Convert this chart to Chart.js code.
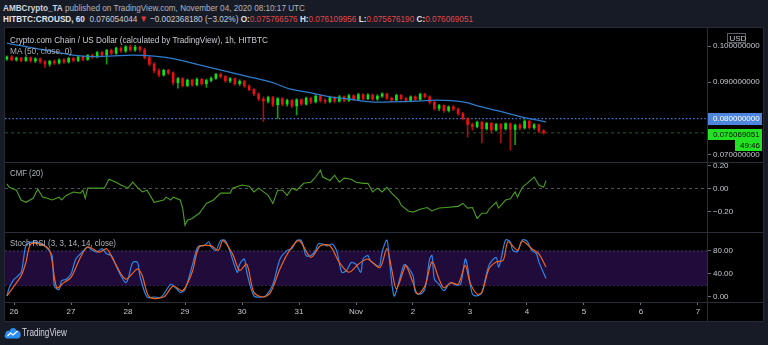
<!DOCTYPE html>
<html><head><meta charset="utf-8">
<script src="https://cdn.jsdelivr.net/npm/chart.js@4.4.0/dist/chart.umd.min.js"></script>
<style>
html,body{margin:0;padding:0;background:#171b26;width:768px;height:345px;overflow:hidden;font-family:"Liberation Sans",Arial,sans-serif;}
.txt{position:absolute;white-space:nowrap;transform-origin:0 50%;line-height:1;z-index:5;}
#panel{position:absolute;left:4px;top:27px;width:758px;height:293px;background:#000;border:1px solid #262a35;}
canvas{position:absolute;left:5px;z-index:2;}
.sep{position:absolute;background:#2a2e39;z-index:4;}
</style></head><body>
<div id="panel"></div>
<canvas id="cPrice" width="758" height="134" style="top:28px;width:758px;height:134px"></canvas>
<canvas id="cCmf" width="758" height="70" style="top:162px;width:758px;height:70px"></canvas>
<canvas id="cStoch" width="758" height="89" style="top:232px;width:758px;height:89px"></canvas>
<div class="sep" style="left:5px;top:162px;width:758px;height:1px"></div>
<div class="sep" style="left:5px;top:232px;width:758px;height:1px"></div>
<div class="sep" style="left:5px;top:302px;width:758px;height:1px"></div>
<div class="sep" style="left:707px;top:28px;width:1px;height:293px"></div>

<div id="t1" class="txt" style="left:3px;top:2.5px;font-size:9.5px"><b style="color:#d1d4dc">AMBCrypto_TA</b> <span style="color:#b2b5be">published on TradingView.com, November 04, 2020 08:10:17 UTC</span></div>
<div id="t2" class="txt" style="left:3px;top:14px;font-size:9.5px;color:#c8cbd3"><b style="color:#e0e3eb">HITBTC:CROUSD, 60</b>&nbsp; 0.076054044 <span style="color:#e53935">▼</span> −0.002368180 (−3.02%) <b style="color:#e0e3eb">O:</b><span style="color:#e04848">0.075766576</span> <b style="color:#e0e3eb">H:</b><span style="color:#e04848">0.076109956</span> <b style="color:#e0e3eb">L:</b><span style="color:#e04848">0.075676190</span> <b style="color:#e0e3eb">C:</b><span style="color:#e04848">0.076069051</span></div>
<div id="t3" class="txt" style="left:10px;top:36px;font-size:9px;color:#c9ccd3">Crypto.com Chain / US Dollar (calculated by TradingView), 1h, HITBTC</div>
<div id="t4" class="txt" style="left:10px;top:46.5px;font-size:9px;color:#a9acb3">MA (50, close, 0)</div>
<div id="t5" class="txt" style="left:10px;top:169px;font-size:9px;color:#b2b5be">CMF (20)</div>
<div id="t6" class="txt" style="left:10px;top:238.5px;font-size:9px;color:#b2b5be">Stoch RSI (3, 3, 14, 14, close)</div>
<svg style="position:absolute;left:4px;top:326px;z-index:5" width="17" height="13" viewBox="0 0 34 26"><path d="M6 25 C1 25 0 19 3 16 C2 11 7 8 11 10 C13 3 22 2 25 9 C30 8 34 12 33 17 C34 22 30 25 27 25 Z" fill="#2a8ef0"/><path d="M7 20 L13 14 L18 18 L27 10" stroke="#fff" stroke-width="2.6" fill="none"/></svg>
<div id="t7" class="txt" style="left:22px;top:328px;font-size:10px;color:#d1d4dc">TradingView</div>

<script>
// ---------- data ----------
const dayTickHours = [0,24,48,72,96,120,144,168,192,216,240,264,288];
const dayLabels = ['26','27','28','29','30','31','Nov','2','3','4','5','6','7'];
const xMin = -3.8, xMax = 291.8; // hours from Oct 26 00:00 UTC
const candleFirstHour = -3, candleStepHours = 2;

const candleOpen = [.0964,.0970,.0962,.0967,.0960,.0968,.0959,.0965,.0957,.0950,.0958,.0953,.0962,.0956,.0966,.0960,.0970,.0963,.0974,.0970,.0982,.0975,.0988,.0980,.0994,.0986,.0998,.0989,.0997,.0990,
  .0968,.0950,.0932,.0920,.0933,.0926,.0899,.0910,.0891,.0906,.0893,.0908,.0896,.0905,.0911,.0922,.0916,.0904,.0910,.0896,
  .0903,.0890,.0880,.0868,.0854,.0848,.0858,.0838,.0855,.0840,.0850,.0835,.0852,.0840,.0856,.0846,.0862,.0850,.0847,.0858,
  .0848,.0860,.0850,.0863,.0853,.0866,.0855,.0865,.0854,.0862,.0868,.0856,.0851,.0864,.0855,.0850,.0860,.0853,.0867,.0860,
  .0845,.0828,.0836,.0822,.0832,.0826,.0814,.0800,.0784,.0778,.0790,.0772,.0787,.0769,.0784,.0772,.0786,.0770,.0782,.0774,
  .0793,.0775,.0783,.0766];
const candleClose = [.0970,.0962,.0967,.0960,.0968,.0959,.0965,.0957,.0950,.0958,.0953,.0962,.0956,.0966,.0960,.0970,.0963,.0974,.0970,.0982,.0975,.0988,.0980,.0994,.0986,.0998,.0989,.0997,.0990,.0968,
  .0950,.0932,.0920,.0933,.0926,.0899,.0910,.0891,.0906,.0893,.0908,.0896,.0905,.0911,.0922,.0916,.0904,.0910,.0896,.0903,
  .0890,.0880,.0868,.0854,.0848,.0858,.0838,.0855,.0840,.0850,.0835,.0852,.0840,.0856,.0846,.0862,.0850,.0847,.0858,.0848,
  .0860,.0850,.0863,.0853,.0866,.0855,.0865,.0854,.0862,.0868,.0856,.0851,.0864,.0855,.0850,.0860,.0853,.0867,.0860,.0845,
  .0828,.0836,.0822,.0832,.0826,.0814,.0800,.0784,.0778,.0790,.0772,.0787,.0769,.0784,.0772,.0786,.0770,.0782,.0774,.0793,
  .0775,.0783,.0766,.076069];
const candleHigh = [.0973,.0974,.0970,.0969,.0971,.0970,.0968,.0967,.0960,.0961,.0962,.0965,.0966,.0969,.0969,.0973,.0973,.0977,.0978,.0985,.0986,.0991,.0992,.0997,.0998,.1001,.1003,.1002,.0999,.0994,
  .0972,.0954,.0938,.0936,.0936,.0929,.0914,.0913,.0909,.0909,.0912,.0911,.0909,.0915,.0925,.0926,.0919,.0913,.0912,.0907,
  .0905,.0893,.0883,.0871,.0860,.0862,.0861,.0858,.0858,.0854,.0853,.0855,.0855,.0859,.0859,.0866,.0866,.0855,.0862,.0861,
  .0864,.0863,.0867,.0866,.0870,.0869,.0869,.0868,.0866,.0871,.0870,.0860,.0867,.0867,.0859,.0863,.0863,.0870,.0870,.0863,
  .0848,.0839,.0838,.0835,.0836,.0829,.0817,.0803,.0788,.0793,.0793,.0790,.0790,.0787,.0787,.0789,.0788,.0785,.0786,.0797,
  .0795,.0786,.0785,.0770];
const candleLow = [.0960,.0959,.0958,.0956,.0957,.0955,.0954,.0952,.0940,.0944,.0949,.0950,.0952,.0953,.0956,.0957,.0959,.0960,.0966,.0967,.0970,.0950,.0976,.0977,.0982,.0982,.0985,.0985,.0984,.0964,
  .0945,.0926,.0915,.0917,.0921,.0893,.0884,.0887,.0888,.0889,.0890,.0892,.0886,.0901,.0908,.0911,.0900,.0899,.0892,.0891,
  .0886,.0876,.0863,.0849,.0792,.0843,.0833,.0800,.0835,.0834,.0830,.0810,.0836,.0837,.0841,.0843,.0845,.0842,.0843,.0844,
  .0845,.0846,.0847,.0849,.0850,.0851,.0852,.0850,.0850,.0858,.0852,.0846,.0848,.0851,.0845,.0846,.0849,.0850,.0856,.0840,
  .0823,.0822,.0817,.0818,.0822,.0809,.0796,.0749,.0768,.0774,.0733,.0768,.0760,.0765,.0733,.0768,.0713,.0728,.0769,.0771,
  .0771,.0770,.0761,.0757];

const maHours  = [-3,13,29,40,50,59,68,78,92,99,108,116,125,133,141,150,158,170,178,189,197,206,214,224];
const maValues = [.1008,.0989,.0972,.0972,.0975,.0972,.0964,.0948,.0926,.0915,.0901,.0882,.0871,.0860,.0854,.0846,.0846,.0848,.0851,.0846,.0832,.0818,.0804,.0791];

const alertLevel = 0.08;
const lastPrice = 0.076069051;
const countdownText = '49:46';
const priceTicks = [0.07, 0.09, 0.10];

const cmfHours = [-3,-2,1,3,5,8,10,12,14,16,19,20,22,25,28,29,30,31,36,38,40,43,45,48,50,52,54,56,59,63,64,66,67,70,71,72,73,75,78,81,84,87,91,92,96,99,101,103,107,109,111,113,115,117,119,122,125,127,129,130,133,135,137,139,142,144,147,149,151,153,155,157,159,162,163,166,168,171,174,176,179,182,187,189,191,193,195,197,199,200,203,204,207,209,211,212,214,216,219,221,223,224];
const cmfValues = [0.04,0.01,-0.015,-0.10,-0.12,-0.085,-0.006,-0.075,-0.085,-0.10,-0.075,-0.10,-0.06,-0.03,-0.04,-0.015,-0.085,0.003,0.003,0.003,0.08,0.055,0.03,0.003,0.055,0.01,-0.03,-0.015,-0.12,-0.10,-0.075,-0.10,-0.075,-0.10,-0.17,-0.32,-0.275,-0.26,-0.215,-0.13,-0.10,-0.04,-0.04,0.003,0.03,0.02,-0.03,0.003,-0.06,-0.13,-0.015,-0.015,-0.06,0.003,-0.015,0.045,0.055,0.10,0.16,0.10,0.07,0.115,0.055,0.09,0.08,0.055,0.045,0.045,-0.03,0.003,-0.03,0.01,-0.04,-0.10,-0.145,-0.195,-0.205,-0.18,-0.165,-0.195,-0.17,-0.165,-0.155,-0.13,-0.17,-0.165,-0.26,-0.215,-0.215,-0.18,-0.12,-0.17,-0.10,-0.09,-0.03,-0.075,0.01,0.045,0.10,0.03,0.01,0.07];
const cmfTicks = [-0.2, 0, 0.2];

const stochKHours = [-3,-2,0,1,3,4,5,7,10,11,12,14,16,17,19,20,22,24,26,28,30,31,33,35,37,39,41,43,45,47,48,50,52,53,56,59,62,66,68,70,72,75,77,78,80,82,83,85,87,89,91,94,95,97,98,101,104,106,109,112,115,117,119,121,123,125,127,128,130,132,134,136,138,140,142,144,146,147,149,150,152,153,154,155,157,158,160,162,164,165,168,169,171,173,174,175,176,177,179,181,183,184,186,188,190,191,193,195,197,200,203,204,205,207,209,210,212,214,216,218,220,221,224];
const stochK = [2,16,31,34,43,66,89,95,95,92,92,84,72,19,13,28,31,40,66,75,84,87,81,78,84,75,72,54,37,25,31,60,60,37,0,0,0,22,16,8,13,54,84,89,89,96,87,81,98,98,78,43,57,66,43,2,0,2,22,66,81,84,98,98,72,72,81,92,92,89,92,78,43,46,60,57,43,66,72,63,57,54,55,78,99,66,2,25,55,56,37,8,5,14,37,66,72,31,22,11,22,25,21,22,66,52,5,2,8,55,69,52,64,99,96,81,79,99,97,81,75,61,32];
const stochDHours = [-3,0,3,5,7,11,15,18,21,24,28,31,36,39,42,47,52,54,57,63,67,71,75,78,83,86,88,92,95,98,101,105,108,112,116,120,125,129,133,137,141,145,149,154,157,159,161,164,165,168,170,173,176,179,181,184,187,190,192,195,197,200,203,206,208,212,214,218,221,224];
const stochD = [2,19,37,60,92,92,81,16,25,34,69,87,78,84,63,31,49,37,0,0,19,11,43,87,89,81,98,75,46,57,8,0,8,49,81,98,69,89,89,60,43,57,66,51,84,49,14,46,55,25,5,19,61,31,16,25,22,55,25,5,8,49,61,64,96,81,97,84,75,52];
const stochBand = [20, 80];
const stochTicks = [0, 40, 80];

// ---------- helpers ----------
Chart.defaults.font.family = '"Liberation Sans", Arial, sans-serif';
Chart.defaults.animation = false;
const AXW = 56;
const tickColor = '#c5c8d0';
const pts = (xs, ys) => xs.map((x, i) => ({x, y: ys[i]}));

function yAxis(min, max, ticks, fmt) {
  return {
    type: 'linear', position: 'right', min, max,
    afterBuildTicks(s) { s.ticks = ticks.map(v => ({value: v})); },
    afterFit(s) { s.width = AXW; s.paddingTop = 0; s.paddingBottom = 0; },
    grid: {drawOnChartArea: false, drawTicks: true, tickLength: 4, color: '#6a6e78'},
    border: {display: false},
    ticks: {color: tickColor, font: {size: 8}, padding: 2, callback: fmt}
  };
}
function xHidden() {
  return {type: 'linear', min: xMin, max: xMax, display: false, offset: false};
}
const commonOpts = {
  responsive: false, maintainAspectRatio: false, animation: false,
  layout: {padding: 0},
  plugins: {legend: {display: false}, tooltip: {enabled: false}}
};

// ---------- price chart ----------
const candleHours = candleOpen.map((_, i) => candleFirstHour + i * candleStepHours);
const isUp = i => candleClose[i] >= candleOpen[i];
const tagPlugin = {
  id: 'tags',
  afterDraw(c) {
    const ctx = c.ctx, ys = c.scales.y, L = c.chartArea.right + 1, W = c.width - L - 1;
    ctx.save();
    ctx.font = '8px "Liberation Sans", Arial';
    ctx.textBaseline = 'middle';
    ctx.strokeStyle = '#5a5e68'; ctx.lineWidth = 1;
    ctx.strokeRect(722.5, 5.5, 18, 9);
    ctx.fillStyle = tickColor; ctx.fillText('USD', 724.5, 10.5);
    let y = ys.getPixelForValue(alertLevel);
    ctx.fillStyle = '#4d86dc'; ctx.fillRect(L, Math.round(y) - 6, W, 12);
    ctx.fillStyle = '#ffffff'; ctx.fillText(alertLevel.toFixed(9), L + 5, y + 0.5);
    y = ys.getPixelForValue(lastPrice) + 1;
    ctx.fillStyle = '#22e022'; ctx.fillRect(L, Math.round(y) - 5, W, 11);
    ctx.fillStyle = '#0a0a0a'; ctx.fillText(lastPrice.toFixed(9), L + 5, y + 0.5);
    ctx.fillStyle = '#22e022'; ctx.fillRect(730, Math.round(y) + 6, 27, 11);
    ctx.fillStyle = '#0a0a0a'; ctx.fillText(countdownText, 735, Math.round(y) + 12);
    ctx.restore();
  }
};
new Chart(document.getElementById('cPrice'), {
  type: 'bar',
  data: {datasets: [
    {type: 'line', data: [{x: xMin, y: alertLevel}, {x: xMax, y: alertLevel}], borderColor: '#3f7fe0', borderWidth: 1.2, borderDash: [1.5, 2.2], pointRadius: 0, order: 5},
    {type: 'line', data: [{x: xMin, y: lastPrice}, {x: xMax, y: lastPrice}], borderColor: '#1f5a28', borderWidth: 1, borderDash: [3, 3], pointRadius: 0, order: 6},
    {type: 'bar', data: candleHours.map((t, i) => ({x: t, y: [candleLow[i], candleHigh[i]]})), barThickness: 1, grouped: false,
      backgroundColor: candleHours.map((_, i) => isUp(i) ? '#12a012' : '#a81010'), order: 4},
    {type: 'bar', data: candleHours.map((t, i) => ({x: t, y: [candleOpen[i], candleClose[i]]})), barThickness: 2, grouped: false, minBarLength: 1,
      backgroundColor: candleHours.map((_, i) => isUp(i) ? '#14e014' : '#e81010'), order: 3},
    {type: 'line', data: pts(maHours, maValues), borderColor: '#2d7ccf', borderWidth: 1.3, pointRadius: 0, tension: 0.4, order: 1}
  ]},
  options: Object.assign({}, commonOpts, {
    scales: {x: xHidden(), y: yAxis(0.06804, 0.10496, priceTicks, v => v.toFixed(9))}
  }),
  plugins: [tagPlugin]
});

// ---------- CMF ----------
new Chart(document.getElementById('cCmf'), {
  type: 'line',
  data: {datasets: [
    {data: [{x: xMin, y: 0}, {x: xMax, y: 0}], borderColor: '#50545e', borderWidth: 1, borderDash: [3, 3], pointRadius: 0, order: 5},
    {data: pts(cmfHours, cmfValues), borderColor: '#4a9e22', borderWidth: 1.1, pointRadius: 0, tension: 0, order: 1}
  ]},
  options: Object.assign({}, commonOpts, {
    scales: {x: xHidden(), y: yAxis(-0.378, 0.2304, cmfTicks, v => (v < 0 ? '\u2212' + Math.abs(v).toFixed(2) : v.toFixed(2)))}
  })
});

// ---------- Stoch RSI ----------
new Chart(document.getElementById('cStoch'), {
  type: 'line',
  data: {datasets: [
    {data: [{x: xMin, y: stochBand[1]}, {x: xMax, y: stochBand[1]}], borderColor: '#4a3a66', borderWidth: 1, borderDash: [2, 2], pointRadius: 0, fill: '+1', backgroundColor: '#200b3a', order: 10},
    {data: [{x: xMin, y: stochBand[0]}, {x: xMax, y: stochBand[0]}], borderColor: '#4a3a66', borderWidth: 1, borderDash: [2, 2], pointRadius: 0, order: 11},
    {data: pts(stochKHours, stochK), borderColor: '#2a86ea', borderWidth: 1.2, pointRadius: 0, tension: 0.3, order: 2},
    {data: pts(stochDHours, stochD), borderColor: '#f0641e', borderWidth: 1.2, pointRadius: 0, tension: 0.3, order: 1}
  ]},
  options: Object.assign({}, commonOpts, {
    scales: {
      x: {
        type: 'linear', min: xMin, max: xMax, position: 'bottom', offset: false,
        afterBuildTicks(s) { s.ticks = dayTickHours.map(v => ({value: v})); },
        afterFit(s) { s.height = 19; s.paddingLeft = 0; s.paddingRight = 0; },
        grid: {drawOnChartArea: false, drawTicks: true, tickLength: 3, color: '#6a6e78'},
        border: {display: false},
        ticks: {color: tickColor, font: {size: 8}, padding: 2, maxRotation: 0, autoSkip: false,
          callback: v => dayLabels[dayTickHours.indexOf(v)]}
      },
      y: yAxis(-8.7, 113, stochTicks, v => v.toFixed(2))
    }
  })
});

// ---------- text fitting ----------
function fit(id, w) {
  const el = document.getElementById(id);
  const r = el.getBoundingClientRect().width;
  el.style.transform = 'scaleX(' + (w / r) + ')';
}
fit('t1', 302); fit('t2', 470); fit('t3', 258); fit('t4', 62); fit('t5', 33); fit('t6', 106); fit('t7', 45);
</script>
</body></html>
